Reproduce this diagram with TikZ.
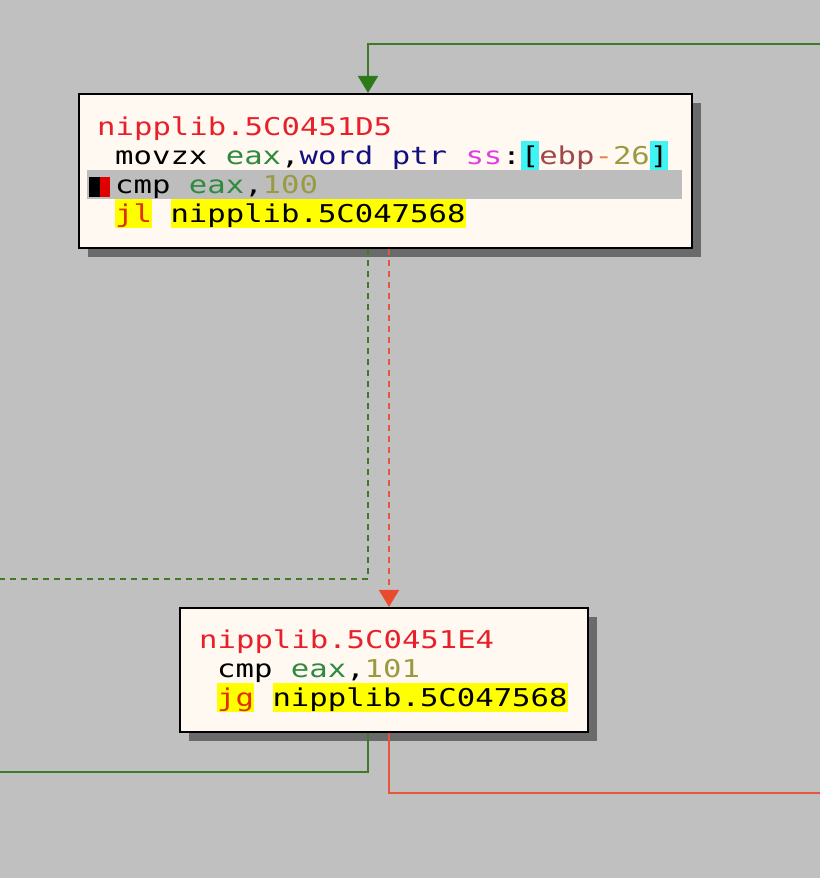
\documentclass[tikz,border=0pt]{standalone}
\usepackage{fontspec}
\usetikzlibrary{arrows.meta,shadows}
\newfontfamily\codefont[FakeStretch=1.25,WordSpace={1,0,0}]{DejaVu Sans Mono}
\definecolor{bg}{HTML}{C0C0C0}
\definecolor{boxfill}{HTML}{FFF9F2}
\definecolor{shadowgray}{HTML}{6A6A6A}
\definecolor{gline}{HTML}{3E7B27}
\definecolor{garrow}{HTML}{2E7A1A}
\definecolor{rline}{HTML}{E8553E}
\definecolor{rarrow}{HTML}{EA4A2E}
\definecolor{lbl}{HTML}{E8202A}
\definecolor{reg}{HTML}{2E8B3E}
\definecolor{kw}{HTML}{101080}
\definecolor{seg}{HTML}{E040E0}
\definecolor{cyanbg}{HTML}{40F4F4}
\definecolor{ebpc}{HTML}{A04848}
\definecolor{minusc}{HTML}{E88040}
\definecolor{num}{HTML}{9A9A40}
\definecolor{jmpc}{HTML}{E03000}
\definecolor{hl}{HTML}{FFFF00}
\definecolor{barc}{HTML}{BDBDBD}
\definecolor{markred}{HTML}{E00000}
\newcommand{\rs}{\rule[-6pt]{0pt}{29pt}}
\setlength{\fboxsep}{0pt}
\tikzset{
  cfgbox/.style={draw=black, line width=2.2pt, fill=boxfill, inner sep=0pt,
    drop shadow={shadow xshift=9pt, shadow yshift=-9pt, fill=shadowgray, opacity=1}},
  codeline/.style={anchor=base west, inner sep=0pt, font=\codefont\fontsize{24.5}{29}\selectfont},
  conn/.style={line width=2.2pt},
  dashconn/.style={line width=2.2pt, dash pattern=on 6pt off 5pt},
  garrowtip/.style={-{Triangle[width=20pt,length=17pt,fill=garrow,color=garrow]}},
  rarrowtip/.style={-{Triangle[width=20pt,length=17pt,fill=rarrow,color=rarrow]}}
}
\begin{document}
\begin{tikzpicture}[x=1pt,y=-1pt]
\useasboundingbox (0,0) rectangle (820,878);
\fill[bg] (0,0) rectangle (820,878);
% boxes
\node[cfgbox, minimum width=613pt, minimum height=154pt] (b1) at (385.5,171) {};
\node[cfgbox, minimum width=408pt, minimum height=124pt] (b2) at (384,670) {};
% highlight bar and marker in box 1
\fill[barc] (87,170) rectangle (682,199);
\fill[black] (89,177) rectangle (100,197);
\fill[markred] (100,177) rectangle (110,197);
% box 1 text
\node[codeline] (t1a) at (97,135) {\textcolor{lbl}{nipplib.5C0451D5}};
\node[codeline] (t1b) at (115,164) {movzx \textcolor{reg}{eax},\textcolor{kw}{word ptr} \textcolor{seg}{ss}:\colorbox{cyanbg}{\rs[}\textcolor{ebpc}{ebp}\textcolor{minusc}{-}\textcolor{num}{26}\colorbox{cyanbg}{\rs]}};
\node[codeline] (t1c) at (115,193) {cmp \textcolor{reg}{eax},\textcolor{num}{100}};
\node[codeline] (t1d) at (115,222) {\colorbox{hl}{\rs\textcolor{jmpc}{jl}} \colorbox{hl}{\rs nipplib.5C047568}};
% box 2 text
\node[codeline] (t2a) at (199,648) {\textcolor{lbl}{nipplib.5C0451E4}};
\node[codeline] (t2b) at (217,677) {cmp \textcolor{reg}{eax},\textcolor{num}{101}};
\node[codeline] (t2c) at (217,706) {\colorbox{hl}{\rs\textcolor{jmpc}{jg}} \colorbox{hl}{\rs nipplib.5C047568}};
% connector coordinates
\coordinate (gx) at (368,0);
\coordinate (rx) at (389,0);
\coordinate (gin) at (820,44);
\coordinate (gout1) at (0,579);
\coordinate (gout2) at (0,772);
\coordinate (rout) at (820,793);
% connectors
\draw[conn, gline, garrowtip] (gin) -| (gx |- b1.north);
\draw[dashconn, gline] (gx |- b1.south) |- (gout1);
\draw[dashconn, rline, rarrowtip] (rx |- b1.south) -- (rx |- b2.north);
\draw[conn, gline] (gx |- b2.south) |- (gout2);
\draw[conn, rline] (rx |- b2.south) |- (rout);
\end{tikzpicture}
\end{document}
